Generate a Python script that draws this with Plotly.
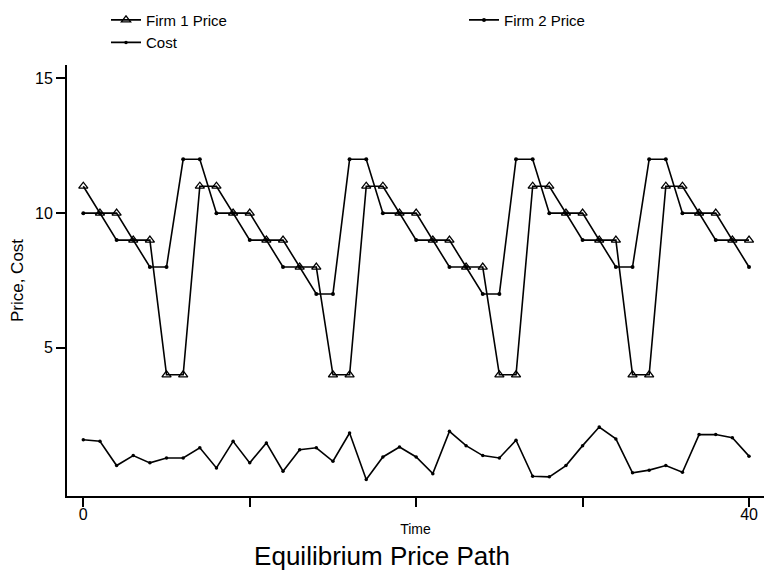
import plotly.graph_objects as go

time = list(range(41))
firm1_price = [11, 10, 10, 9, 9, 4, 4, 11, 11, 10, 10, 9, 9, 8, 8, 4, 4, 11, 11, 10, 10,
               9, 9, 8, 8, 4, 4, 11, 11, 10, 10, 9, 9, 4, 4, 11, 11, 10, 10, 9, 9]
firm2_price = [10, 10, 9, 9, 8, 8, 12, 12, 10, 10, 9, 9, 8, 8, 7, 7, 12, 12, 10, 10, 9,
               9, 8, 8, 7, 7, 12, 12, 10, 10, 9, 9, 8, 8, 12, 12, 10, 10, 9, 9, 8]
cost = [1.59, 1.53, 0.63, 1.00, 0.73, 0.91, 0.91, 1.29, 0.54, 1.53, 0.73, 1.47, 0.42, 1.22,
        1.29, 0.79, 1.84, 0.11, 0.95, 1.32, 0.95, 0.33, 1.90, 1.37, 1.00, 0.91, 1.57, 0.23,
        0.21, 0.63, 1.37, 2.06, 1.62, 0.36, 0.46, 0.63, 0.38, 1.78, 1.78, 1.66, 0.98]
x_tickvals = [0, 10, 20, 30, 40]
x_ticktext = ["0", "", "", "", "40"]
y_tickvals = [5, 10, 15]

FONT = "Liberation Sans, Arial, sans-serif"
line_style = dict(color="black", width=1.6)

fig = go.Figure()
fig.add_trace(go.Scatter(x=time, y=firm1_price, name="Firm 1 Price", mode="lines+markers",
                         line=line_style, legend="legend",
                         marker=dict(symbol="triangle-up-open", size=8, color="black",
                                     line=dict(width=1.3, color="black"))))
fig.add_trace(go.Scatter(x=time, y=firm2_price, name="Firm 2 Price", mode="lines+markers",
                         line=line_style, legend="legend2",
                         marker=dict(symbol="circle", size=4, color="black")))
fig.add_trace(go.Scatter(x=time, y=cost, name="Cost", mode="lines+markers",
                         line=line_style, legend="legend",
                         marker=dict(symbol="circle", size=3.5, color="black")))

PLOT_W = 764 - 67
PLOT_H = 432
legend_common = dict(orientation="v", xanchor="left", yanchor="top", font=dict(size=15),
                     tracegroupgap=0, bgcolor="rgba(0,0,0,0)",
                     y=1 + (64.5 - 3) / PLOT_H)

fig.update_layout(
    width=764, height=574,
    margin=dict(l=67, r=0, t=64.5, b=77.5),
    plot_bgcolor="white", paper_bgcolor="white",
    font=dict(family=FONT, size=15, color="black"),
    showlegend=True,
    legend=dict(x=(106 - 67) / PLOT_W, **legend_common),
    legend2=dict(x=(464 - 67) / PLOT_W, **legend_common),
    title=dict(text="Equilibrium Price Path", x=0.5, xanchor="center",
               y=1 - 556 / 574, yanchor="middle", yref="container",
               font=dict(size=26, family=FONT)),
)
fig.update_xaxes(range=[-0.98, 40.9], showgrid=False, zeroline=False,
                 showline=True, linecolor="black", linewidth=2,
                 ticks="outside", ticklen=9, tickwidth=2, tickcolor="black",
                 tickvals=x_tickvals, ticktext=x_ticktext,
                 tickfont=dict(size=16), ticklabelstandoff=-6,
                 title=dict(text="Time", font=dict(size=14), standoff=2))
fig.update_yaxes(range=[-0.5, 15.5], showgrid=False, zeroline=False,
                 showline=True, linecolor="black", linewidth=2,
                 ticks="outside", ticklen=9, tickwidth=2, tickcolor="black",
                 tickvals=y_tickvals, tickfont=dict(size=16),
                 title=dict(text="Price, Cost", font=dict(size=17), standoff=7))

fig.write_html("out.html")
